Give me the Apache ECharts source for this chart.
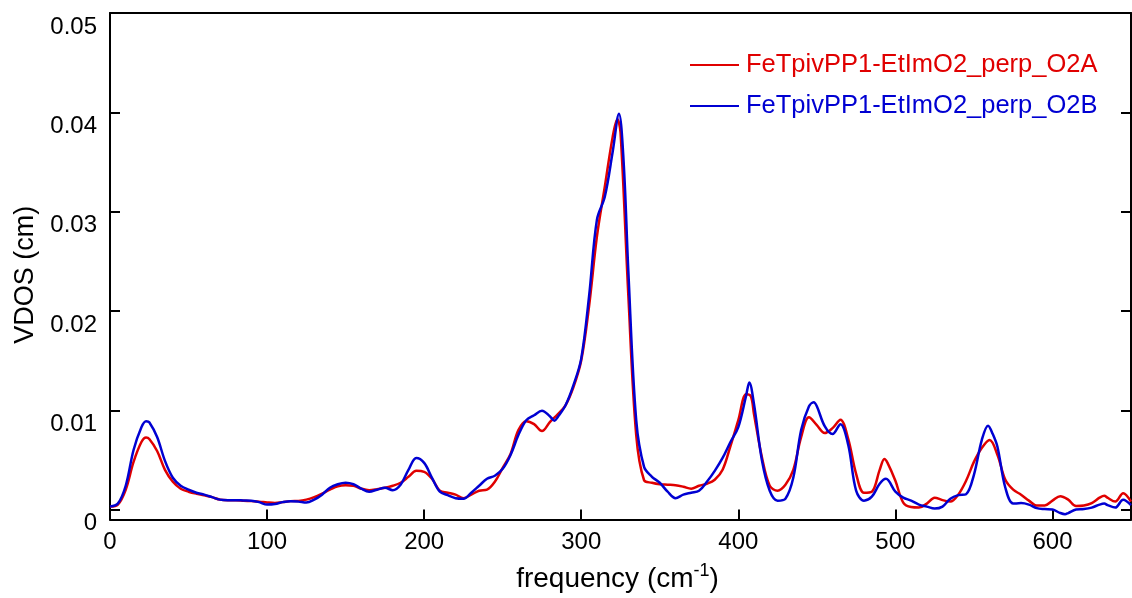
<!DOCTYPE html>
<html>
<head>
<meta charset="utf-8">
<script src="https://cdn.jsdelivr.net/npm/echarts@6/dist/echarts.min.js"></script>
<style>
  html, body { margin: 0; padding: 0; background: #fff; }
  #chart { width: 1132px; height: 598px; }
</style>
</head>
<body>
<div id="chart"></div>
<script>
// ---- data (VDOS values in units of 1e-3 cm) ----
const seriesNames = ['FeTpivPP1-EtImO2_perp_O2A', 'FeTpivPP1-EtImO2_perp_O2B'];

const freqA = [0,5,10,15,20,23,25,30,35,40,45,50,55,60,65,70,75,80,85,90,95,100,105,110,115,120,125,130,135,140,145,150,155,160,165,170,175,180,185,190,195,200,205,210,215,220,225,230,235,240,245,250,255,260,265,270,275,280,285,290,295,300,305,310,315,320,323,325,330,335,340,345,350,355,360,365,370,375,380,385,390,395,400,405,408,410,415,420,425,430,435,440,445,450,455,460,465,470,475,480,485,490,493,495,500,505,510,515,520,525,530,535,540,545,550,555,560,565,570,575,580,585,590,595,600,605,610,615,620,625,630,633,635,640,645,650];
const vdosA = [0.3,0.5,2.0,4.8,6.8,7.25,7.1,5.9,4.0,2.8,2.1,1.8,1.6,1.45,1.25,1.0,0.95,0.95,0.9,0.85,0.8,0.72,0.67,0.75,0.85,0.87,1.0,1.25,1.6,2.0,2.35,2.45,2.4,2.1,1.95,2.05,2.2,2.4,2.7,3.3,3.9,3.8,3.1,1.9,1.7,1.5,1.15,1.5,1.9,2.0,2.8,4.2,5.6,8.0,8.9,8.6,7.9,8.8,9.6,10.5,12.3,15.0,20.5,27.5,32.5,37.5,39.3,38.0,21.5,7.5,2.95,2.7,2.55,2.5,2.45,2.3,2.1,2.4,2.6,3.0,4.0,6.4,9.0,11.6,11.4,9.6,5.3,2.4,1.9,2.5,4.0,7.3,9.3,8.5,7.7,8.2,9.05,7.1,3.6,1.7,1.8,4.0,5.1,4.7,2.9,0.7,0.25,0.2,0.6,1.2,0.95,0.8,1.5,2.9,4.8,6.2,7.0,5.5,3.0,2.0,1.5,0.9,0.4,0.4,0.9,1.35,1.0,0.35,0.4,0.65,1.2,1.4,1.2,0.8,1.65,0.8];

const freqB = [0,5,10,15,20,23,25,30,35,40,45,50,55,60,65,70,75,80,85,90,95,100,105,110,115,120,125,130,135,140,145,150,155,160,165,170,175,180,185,190,195,200,205,210,215,220,225,230,235,240,245,250,255,260,265,270,275,280,283,285,290,295,300,305,310,315,320,324,327,330,335,340,345,350,355,360,365,370,375,380,385,390,395,400,405,407,410,415,420,425,430,435,440,445,448,450,455,460,465,470,475,480,485,490,494,500,505,510,515,520,525,530,535,540,545,550,555,559,562,565,570,575,580,585,590,595,600,605,608,610,615,620,625,630,633,635,640,645,650];
const vdosB = [0.3,0.6,2.4,6.0,8.3,8.9,8.8,7.3,4.9,3.2,2.4,2.0,1.7,1.5,1.25,1.0,0.95,0.95,0.92,0.9,0.75,0.5,0.55,0.75,0.85,0.8,0.7,1.0,1.5,2.2,2.55,2.7,2.55,2.1,1.8,2.0,2.2,1.95,2.5,4.0,5.2,4.7,3.2,1.8,1.45,1.15,1.1,1.7,2.4,3.1,3.4,4.1,5.5,7.5,9.0,9.5,9.95,9.4,8.95,9.3,10.5,12.5,15.2,21.5,29.2,31.5,36.0,39.85,35.0,24.0,9.0,4.3,3.3,2.7,1.8,1.15,1.5,1.7,1.9,2.8,3.9,5.2,6.8,8.3,11.5,12.8,10.6,5.0,1.9,0.9,1.1,3.2,8.0,10.4,10.8,10.4,8.4,7.6,8.6,6.5,1.9,0.9,1.3,2.6,3.1,1.8,1.2,0.9,0.5,0.3,0.1,0.3,1.1,1.45,1.55,3.5,7.0,8.45,7.6,6.3,2.2,0.6,0.65,0.5,0.15,0.05,0.0,-0.35,-0.46,-0.35,0.0,0.05,0.2,0.5,0.6,0.45,0.2,1.0,0.45];

const xTicks = [0, 100, 200, 300, 400, 500, 600];
const yTicks = [0, 0.01, 0.02, 0.03, 0.04, 0.05];

const colors = ['#e00000', '#0000d2'];
const FONT = "'Liberation Sans', Arial, Helvetica, sans-serif";

function pairs(fx, v) { return fx.map((f, i) => [f, v[i] * 1e-3]); }

const chart = echarts.init(document.getElementById('chart'), null, { renderer: 'canvas' });

const axisLine = { show: true, onZero: false, lineStyle: { color: '#000', width: 2 } };
const tickStyle = { color: '#000', width: 2 };

chart.setOption({
  animation: false,
  backgroundColor: '#fff',
  textStyle: { fontFamily: FONT },
  grid: { left: 110, right: 1, top: 13, bottom: 75, containLabel: false },
  legend: {
    orient: 'vertical',
    left: 685,
    top: 47,
    icon: 'rect',
    itemWidth: 49,
    itemHeight: 2,
    itemGap: 15,
    data: [
      { name: seriesNames[0], textStyle: { color: colors[0] } },
      { name: seriesNames[1], textStyle: { color: colors[1] } }
    ],
    textStyle: { fontSize: 25.5, fontFamily: FONT, padding: [0, 0, 0, 2] }
  },
  xAxis: [{
    type: 'value', min: 0, max: 650, position: 'bottom',
    name: 'frequency (cm{sup|-1})',
    nameLocation: 'middle', nameGap: 43,
    nameTextStyle: {
      fontSize: 28, color: '#000', fontFamily: FONT, padding: [0, 6, 0, 0],
      rich: { sup: { fontSize: 18, color: '#000', fontFamily: FONT, padding: [0, 0, 15, 0] } }
    },
    axisLine: axisLine,
    axisTick: { show: true, inside: true, length: 10, lineStyle: tickStyle, customValues: xTicks },
    axisLabel: { show: true, customValues: xTicks, fontSize: 24, color: '#000', margin: 11, fontFamily: FONT },
    splitLine: { show: false }
  }, {
    type: 'value', min: 0, max: 650, position: 'top',
    axisLine: axisLine, axisTick: { show: false }, axisLabel: { show: false }, splitLine: { show: false }
  }],
  yAxis: [{
    type: 'value', min: -0.001, max: 0.05, position: 'left',
    name: 'VDOS (cm)', nameLocation: 'middle', nameGap: 69, nameRotate: 90,
    nameTextStyle: { fontSize: 27, color: '#000', fontFamily: FONT, padding: [0, 17, 0, 0] },
    axisLine: axisLine,
    axisTick: { show: true, inside: true, length: 10, lineStyle: tickStyle, customValues: yTicks },
    axisLabel: { show: true, customValues: yTicks, fontSize: 24, color: '#000', margin: 13, verticalAlign: 'top', padding: [2, 0, 0, 0], fontFamily: FONT },
    splitLine: { show: false }
  }, {
    type: 'value', min: -0.001, max: 0.05, position: 'right',
    axisLine: axisLine,
    axisTick: { show: true, inside: true, length: 10, lineStyle: tickStyle, customValues: yTicks },
    axisLabel: { show: false }, splitLine: { show: false }
  }],
  series: [
    {
      name: seriesNames[0], type: 'line', xAxisIndex: 0, yAxisIndex: 0,
      data: pairs(freqA, vdosA), smooth: 0.35, symbol: 'none', showSymbol: false,
      lineStyle: { color: colors[0], width: 2.5 }, itemStyle: { color: colors[0] }, z: 2
    },
    {
      name: seriesNames[1], type: 'line', xAxisIndex: 0, yAxisIndex: 0,
      data: pairs(freqB, vdosB), smooth: 0.35, symbol: 'none', showSymbol: false,
      lineStyle: { color: colors[1], width: 2.5 }, itemStyle: { color: colors[1] }, z: 3
    }
  ]
});
</script>
</body>
</html>
